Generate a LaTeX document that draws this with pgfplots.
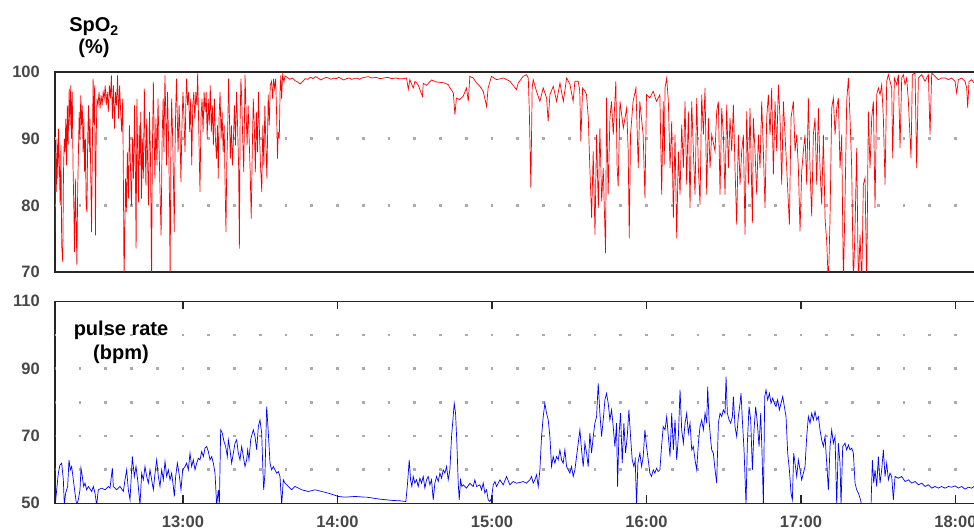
\documentclass[border=0pt]{standalone}
\usepackage{fontspec}
\setmainfont{Liberation Sans}
\usepackage{pgfplots}
\pgfplotsset{compat=1.18}

\definecolor{ticktext}{HTML}{474747}
\definecolor{framecol}{HTML}{262626}
\definecolor{griddot}{HTML}{ABABAB}

% time axis in minutes after 12:00
\pgfplotsset{
  panel/.style={
    scale only axis,
    width=925pt,
    xmin=10.3, xmax=369.52,
    axis line style={framecol, line width=1.5pt},
    tick label style={font=\fontsize{16.5}{18}\selectfont\bfseries, text=ticktext},
    yticklabel style={anchor=east, inner sep=0pt, xshift=-15pt},
    ytick style={draw=none},
    major tick length=8pt,
    extra y tick labels={},
    extra y tick style={grid=major, major tick length=0pt,
      major grid style={griddot, line width=2.8pt,
        dash pattern=on 2.8pt off 22.95pt, dash phase=2.17pt}},
  }
}

\begin{document}
\begin{tikzpicture}
\path[use as bounding box] (0,0) rectangle (974pt,530pt);

% ---------------- SpO2 ----------------
\begin{axis}[panel, at={(55pt,258pt)}, anchor=south west, height=200pt,
  ymin=70, ymax=100, ytick={70,80,90,100}, yticklabels={70,80,90,100},
  extra y ticks={80,90}, xtick=\empty]
\addplot[red, line width=0.7pt] table[x=t, y=v] {
t v
10.3 76
10.5 88
10.8 82
11.1 90
11.4 84
11.7 91.5
12.0 86
12.3 80
12.6 89
12.9 74
13.3 71.5
13.6 85
13.9 90
14.2 88
14.5 93
14.8 86
15.1 95
15.4 89
15.8 97.5
16.1 92
16.4 98
16.7 90
17.0 97
17.3 86
17.6 80
17.9 73
18.2 84
18.5 78
18.8 71
19.1 82
19.4 88
19.7 94
20.0 90
20.3 96.5
20.6 92
20.9 95
21.2 88
21.5 93
21.8 85
22.1 90
22.4 80
22.7 79
23.0 90
23.3 95
23.6 88
23.9 93
24.2 84
24.5 76
24.8 88
25.1 99
25.4 92
25.7 98
26.0 75.5
26.3 90
26.6 96
27.0 95
27.4 97
27.8 94.5
28.2 96.5
28.6 95
29.0 97
29.4 96
29.8 98
30.2 95
30.6 97
31.0 94
31.4 98
31.8 96
32.2 99.5
32.6 93
33.0 98
33.4 91.5
33.8 97
34.2 95
34.6 99.5
35.0 93
35.4 98
35.8 94
36.2 91
36.6 96
36.9 82
37.1 68
37.4 76
37.7 84
38.0 79
38.4 88
38.8 81
39.2 92
39.6 86
40.0 80
40.4 90
40.8 84
41.2 95
41.5 86
41.8 73.5
42.1 96
42.4 88
42.7 80.5
43.0 92
43.3 86
43.6 94
43.9 81
44.2 90
44.6 84
45.0 97.5
45.3 90
45.6 83
45.9 93
46.2 88
46.6 80
47.0 94
47.4 87
47.8 68
48.1 88
48.5 98.5
48.8 91
49.1 84
49.5 93
49.9 86
50.3 96
50.7 89
51.1 82
51.5 75.5
51.9 90
52.3 96
52.6 88
53.0 99.5
53.3 94
53.6 86
54.0 97
54.4 90
54.8 80
55.0 68
55.3 88
55.6 96
56.0 90
56.3 84
56.6 76
56.9 88
57.2 95
57.5 99
57.8 93
58.1 88
58.5 95
58.9 90
59.2 83.5
59.6 92
60.0 97
60.4 93
60.8 88
61.1 95
61.4 99
61.8 95
62.2 97
62.6 91
63.0 96
63.4 86
63.8 95
64.2 97
64.6 93
65.0 97
65.4 95
65.7 99.8
66.0 94
66.3 88
66.6 82
67.0 93
67.4 96
67.8 91
68.2 97
68.6 94
69.0 97
69.4 90
69.8 96
70.2 92
70.6 98
71.0 91
71.4 95
71.8 89
72.2 96
72.6 90
73.0 87
73.4 92
73.7 84
74.0 93
74.4 97
74.8 90
75.2 94
75.6 88
76.0 92
76.4 82
76.7 76
77.0 86
77.4 92
77.7 99
78.0 94
78.4 87
78.8 92
79.2 86
79.6 90
80.0 95
80.4 89
80.8 97
81.2 92
81.6 86
81.9 73.5
82.2 93
82.5 99
82.8 96
83.2 90
83.6 85
84.1 99.6
84.5 94
84.9 89
85.3 95
85.7 90
86.1 85
86.5 78
86.9 88
87.3 96
87.7 92
88.1 85
88.5 94
88.9 88
89.3 97
89.7 91
90.1 86
90.6 82
91.0 92
91.4 86
91.8 95
92.2 89
92.6 84
93.1 96.6
93.5 92
93.9 98
94.4 98.6
94.8 96
95.2 99
95.6 97.5
96.0 99
96.4 93
96.7 87
97.0 91
97.4 90
97.7 97
98.0 99.5
98.3 96
98.7 99.6
99.2 98.5
99.6 99.4
100.5 99.2
101.5 98.9
102.5 99.1
103.5 98.7
104.5 98.5
105.5 98.2
106.5 98.6
107.5 99.0
108.5 98.9
109.5 99.2
110.5 99.0
111.5 99.3
112.5 99.1
113.5 98.8
114.5 99.0
115.5 99.2
116.5 99.1
117.5 98.9
118.5 99.1
119.5 99.0
120.5 99.2
121.5 99.0
122.5 98.8
123.5 99.0
124.5 99.1
125.5 98.9
126.5 99.0
127.5 99.1
128.5 98.9
129.5 99.1
130.5 99.2
132.0 99.3
133.5 99.1
135.0 99.2
136.5 99.0
138.0 99.1
139.5 99.2
141.0 99.0
142.5 99.1
144.0 99.0
145.5 99.0
146.8 99.1
147.5 97.4
148.1 98.85
149.4 97.6
150.1 98.6
151.3 98.1
153.0 96.35
153.3 98.3
154.6 98.0
156.5 98.8
158.5 98.5
161.1 98.4
163.0 98.1
163.7 97.6
165.0 96.85
165.6 93.6
166.2 96.1
167.5 95.85
168.8 96.35
170.1 97.6
170.8 95.6
171.4 99.35
172.7 99.1
174.0 98.35
175.3 97.85
176.6 97.1
177.9 94.85
178.5 97.6
179.8 99.35
181.8 98.85
184.4 99.1
187.0 98.6
189.5 97.35
190.2 98.35
192.1 99.35
193.4 99.6
194.1 99.1
194.5 94.1
195.1 82.6
195.6 97.6
196.0 98.85
197.3 97.1
198.6 95.6
199.9 97.6
201.2 96.1
201.8 92.6
202.5 96.6
203.8 97.85
205.1 95.6
206.4 98.35
207.7 95.6
209.0 99.1
210.3 98.1
211.5 95.6
212.2 98.6
213.5 98.6
214.1 97.1
214.5 89.6
215.2 97.6
216.1 97.1
216.7 96.6
217.4 93.1
218.0 85.6
218.7 78.1
219.3 88.1
220.0 75.6
220.6 90.6
221.3 79.6
221.9 91.6
222.6 80.6
223.2 85.6
224.1 72.85
224.5 96.1
225.1 81.6
225.8 93.1
226.4 95.6
227.1 90.6
228.1 98.6
228.6 85.6
229.0 82.85
229.7 95.6
231.0 91.6
232.3 94.6
232.9 88.1
233.3 75.1
233.8 90.6
234.8 95.6
235.9 97.6
236.8 85.6
237.4 95.6
238.7 90.6
239.4 81.1
240.0 96.6
241.3 96.1
242.6 97.1
243.9 95.6
245.2 96.6
245.9 81.6
246.5 95.6
246.9 86.1
247.2 97.6
247.85 99.1
248.49 95.6
249.14 85.6
249.79 92.6
250.44 78.1
251.08 90.6
251.73 75.1
252.38 88.1
253.03 81.6
253.67 92.1
254.32 85.6
254.97 95.6
255.61 83.1
256.26 94.1
256.91 79.6
257.56 95.6
258.20 88.1
258.85 81.6
259.50 96.1
260.15 85.6
260.79 80.1
261.44 96.6
262.09 90.6
262.73 97.6
263.38 81.6
264.03 93.1
264.68 85.6
265.32 90.6
266.62 88.1
267.26 94.1
267.91 95.6
268.56 81.6
269.21 94.6
269.85 90.6
270.50 81.6
271.15 95.1
271.80 85.6
272.44 93.1
273.09 88.1
273.74 95.1
274.38 85.6
275.03 77.1
275.68 90.6
276.33 83.1
276.97 88.1
277.62 90.6
278.27 75.6
278.92 94.1
279.56 83.1
280.21 94.6
281.12 77.35
281.50 93.1
282.15 88.1
282.80 81.6
283.45 90.6
284.09 85.6
284.74 95.6
285.39 88.1
286.03 79.6
286.68 93.1
287.33 96.6
287.98 90.6
288.62 97.6
289.27 84.6
289.92 95.6
290.57 88.1
291.21 98.1
291.86 93.1
292.51 83.1
293.15 95.6
293.80 90.6
294.45 85.6
295.49 77.1
296.13 93.1
297.04 95.6
297.69 88.1
298.33 90.6
298.98 85.6
299.63 76.1
300.27 85.1
300.92 88.1
301.57 90.6
302.22 83.1
302.86 96.1
303.51 85.6
304.16 78.35
304.80 90.6
305.45 93.1
306.10 83.1
306.75 94.6
307.39 85.6
308.04 80.1
308.69 90.6
309.34 78.1
309.98 74.6
310.63 68
311.28 78.1
311.92 94.6
312.57 96.1
313.22 90.6
313.87 94.6
314.51 96.1
315.16 85.6
315.81 90.6
316.46 68
317.10 80.6
317.75 95.6
318.40 99.1
319.04 93.1
319.69 85.6
320.34 68
320.99 76.6
321.63 88.6
322.28 68
322.93 75.6
323.58 68
324.22 83.1
324.87 84.1
325.52 68
326.16 94.1
326.81 85.6
327.46 93.1
328.11 95.6
328.75 79.6
329.40 96.6
330.05 97.6
330.70 96.6
331.34 98.1
331.99 93.1
332.64 83.1
333.28 98.6
333.93 99.6
334.58 98.6
335.23 97.6
335.61 87.1
336.26 99.1
337.17 98.1
337.82 99.6
338.46 88.6
339.11 99.1
339.76 99.6
340.40 98.1
341.05 99.1
341.70 95.6
342.73 87.1
343.25 99.6
344.29 99.85
344.93 85.6
345.58 99.1
346.88 99.6
348.17 98.6
349.47 99.6
350.11 90.6
350.76 99.85
352.05 99.35
353.35 98.85
354.64 99.1
355.94 99.1
357.23 98.85
358.53 99.1
359.82 98.6
360.47 96.85
361.12 98.85
362.41 99.1
363.71 98.6
364.35 97.6
364.74 94.6
365.26 98.6
366.29 98.85
367.20 98.35
};
\end{axis}

% ---------------- pulse rate ----------------
\begin{axis}[panel, at={(55pt,26.7pt)}, anchor=south west, height=202pt,
  ymin=50, ymax=110, ytick={50,70,90,110}, yticklabels={50,70,90,110},
  extra y ticks={60,70,80,90,100},
  xtick={60,120,180,240,300,360},
  xticklabels={13:00,14:00,15:00,16:00,17:00,18:00},
  xtick style={framecol, line width=1.5pt},
  xticklabel style={anchor=north, inner sep=0pt, yshift=-12pt}]
\addplot[blue, line width=0.7pt] table[x=t, y=v] {
t v
10.3 99
10.4 49.5
10.95 54.01
11.59 58.95
12.24 61.43
12.89 61.92
13.54 56.98
13.92 49.5
14.44 53.02
15.22 55.0
15.74 62.91
16.25 59.94
16.77 60.93
17.42 56.98
18.07 53.02
18.71 49.5
19.36 51.04
20.01 54.01
20.4 60.44
20.91 57.97
21.43 55.0
21.95 55.99
22.6 54.01
23.25 55.0
24.54 53.51
25.19 55.0
25.83 53.02
26.48 49.5
27.13 54.01
28.42 54.5
29.72 54.01
31.01 55.0
31.66 54.5
32.57 60.44
32.95 55.0
34.25 54.01
35.54 55.0
36.84 53.51
37.48 56.98
38.13 59.94
38.78 54.01
39.43 51.04
40.33 63.9
41.11 57.97
41.76 60.93
42.4 56.98
43.31 49.5
43.96 58.95
44.6 56.98
45.25 60.93
45.9 57.97
46.55 55.99
47.19 59.94
47.84 56.98
48.49 54.01
49.14 58.95
49.78 62.91
50.43 57.97
51.08 55.0
51.72 59.94
52.37 56.98
53.02 62.42
53.67 57.97
54.31 59.94
54.96 56.98
55.61 58.95
56.25 55.0
56.64 52.03
57.16 57.97
57.81 61.92
58.46 58.95
59.23 54.01
59.88 59.94
60.79 60.93
61.43 61.92
62.08 59.94
62.73 64.89
63.37 60.93
64.02 62.91
64.67 59.94
65.32 61.92
65.96 63.41
66.61 62.91
67.26 65.38
67.91 63.9
68.55 66.37
69.2 66.87
69.85 65.38
70.49 62.91
71.14 63.9
71.79 61.92
72.44 58.95
73.08 49.5
73.73 54.01
74.12 49.5
74.64 71.81
75.28 70.82
75.93 68.35
76.58 66.87
77.23 63.9
77.61 68.85
78.26 65.88
78.91 61.92
79.56 64.89
80.2 67.86
80.85 68.85
81.5 64.89
82.14 62.91
82.79 66.87
83.44 63.9
84.09 60.93
84.73 62.91
85.12 65.88
85.64 62.91
86.29 68.85
86.93 70.82
87.32 71.81
87.97 69.83
88.62 65.88
89.26 72.8
89.91 74.78
90.56 70.82
90.95 61.92
91.34 54.01
91.85 58.95
92.5 78.74
93.15 70.82
93.8 61.92
94.44 59.94
95.09 60.93
95.74 59.94
96.38 58.95
97.03 59.45
97.68 57.97
98.33 49.5
98.97 56.98
99.62 55.99
100.92 55.0
102.21 54.01
103.5 55.0
104.8 54.5
106.09 54.01
108.68 53.51
111.27 54.01
113.86 53.51
116.45 53.02
118.39 52.53
120.33 52.03
122.92 51.83
126.81 52.03
130.69 51.83
131.29 51.83
133.88 51.53
136.47 51.23
139.06 51.03
141.65 50.84
144.23 50.74
146.56 50.54
147.21 55.98
147.86 62.9
148.38 56.97
148.89 54.99
149.41 57.96
150.06 55.98
150.71 56.97
151.35 54.99
152.0 57.46
152.65 55.98
153.3 57.96
153.94 54.5
154.59 56.97
155.24 57.96
155.88 55.49
156.53 56.97
157.18 51.03
157.83 55.98
158.47 57.96
159.12 56.47
159.77 58.95
160.42 57.46
161.06 59.94
161.71 58.95
162.36 60.93
163.0 56.97
163.65 59.94
164.3 69.83
164.82 74.77
165.33 79.72
165.85 76.75
166.37 67.85
166.89 55.98
167.28 51.03
167.79 56.97
168.31 54.99
168.83 55.49
170.12 54.5
171.42 55.98
172.71 54.99
173.36 56.97
174.01 54.99
175.3 55.49
175.95 54.0
176.6 55.98
177.24 53.01
177.89 54.0
178.54 51.03
179.19 50.54
179.83 51.53
180.48 55.49
181.13 56.47
181.77 54.99
183.07 56.97
184.36 55.49
185.66 57.96
186.95 55.49
188.25 56.47
189.54 55.98
190.84 56.18
192.13 56.47
193.43 55.98
194.72 56.97
195.37 57.96
196.01 55.98
196.66 56.97
197.31 58.45
197.96 54.99
198.6 59.94
199.25 69.83
199.9 75.76
200.54 79.72
201.19 76.75
201.84 74.77
202.49 69.83
203.13 60.93
203.78 63.89
204.43 61.91
205.08 63.89
205.72 62.9
206.37 65.87
207.02 62.9
207.66 61.91
208.31 65.87
208.96 60.93
209.61 59.94
210.25 58.95
210.9 60.93
211.55 57.96
212.2 59.94
212.84 63.89
213.49 67.85
214.14 71.81
214.78 65.87
215.43 60.93
216.08 67.85
216.73 64.88
217.37 60.93
218.02 70.82
218.67 64.88
219.32 69.83
219.96 73.78
220.61 75.76
221.26 85.65
221.9 76.75
222.55 69.83
223.2 74.77
223.85 80.71
224.49 82.69
225.14 79.72
225.79 74.77
226.43 77.74
227.08 72.79
227.73 66.86
228.38 73.78
228.77 54.99
229.28 69.83
229.93 76.75
230.58 61.91
231.22 73.78
231.87 64.88
232.52 69.83
233.17 77.74
233.81 69.83
234.46 62.9
235.11 60.93
235.63 62.9
236.14 49.5
236.66 61.91
237.44 64.88
238.09 60.93
238.73 63.89
239.38 71.81
240.03 66.86
240.67 62.9
241.32 58.95
241.97 57.96
242.62 59.94
243.26 58.95
243.91 60.43
244.56 59.44
245.21 59.94
245.85 66.86
246.5 72.79
247.2 71.81
247.85 75.76
248.49 69.83
249.14 63.89
249.79 76.75
250.44 65.87
251.08 74.77
251.73 62.9
252.38 69.83
253.03 83.68
253.67 71.81
254.32 67.85
254.97 73.78
255.61 76.75
256.26 70.82
256.91 73.78
257.56 65.87
258.2 66.86
258.85 62.9
259.5 59.94
260.15 67.85
260.79 72.79
261.44 74.77
262.09 71.81
262.73 76.75
263.38 73.78
263.77 84.66
264.29 74.77
264.81 69.83
265.32 65.87
265.97 64.88
266.62 59.94
267.26 55.98
267.91 73.78
268.56 76.75
269.21 75.76
269.85 77.74
270.5 76.75
270.89 87.63
271.41 76.75
272.05 74.77
272.7 73.78
273.35 75.76
273.74 81.7
274.38 72.79
275.03 69.83
275.68 75.76
276.33 79.72
276.71 82.69
277.23 74.77
277.88 65.87
278.66 49.5
279.17 67.85
279.82 78.73
280.47 74.77
281.12 59.94
281.76 71.81
282.41 78.73
283.06 73.78
283.71 66.86
284.35 76.75
284.87 64.88
285.39 49.5
285.91 81.7
286.42 83.68
287.07 80.71
287.72 82.69
288.37 79.72
289.01 81.2
289.66 79.72
290.31 78.73
290.95 80.71
291.6 77.74
292.25 79.72
292.9 81.7
293.54 78.73
294.19 75.76
294.84 64.88
295.49 59.94
296.13 53.01
296.65 51.03
297.17 64.88
297.69 61.91
298.33 57.96
298.98 62.9
299.63 59.94
300.27 56.97
300.92 58.95
301.57 60.93
302.22 69.83
302.86 75.76
303.51 73.78
304.16 76.75
304.8 74.77
305.45 77.25
306.1 74.77
306.75 75.76
307.39 71.81
308.04 68.84
308.69 66.86
309.34 69.83
309.98 61.91
310.63 54.0
311.28 66.86
311.92 71.81
312.57 67.85
313.22 69.83
313.87 49.5
314.51 67.85
315.16 61.91
315.55 49.5
316.2 66.86
317.1 67.85
317.75 65.87
318.4 67.35
319.04 65.87
319.69 66.37
320.34 64.88
320.99 55.98
321.63 54.0
322.28 53.01
322.93 51.53
323.58 49.5
324.87 49.5
326.16 49.5
327.2 49.5
327.72 62.9
328.24 55.98
328.75 59.94
329.4 54.99
330.05 63.89
330.7 55.98
331.34 59.94
331.99 65.87
332.64 57.96
333.28 61.91
333.93 56.97
334.58 58.95
335.23 57.96
335.87 51.03
336.52 57.96
337.82 57.46
339.11 57.96
340.4 56.47
341.7 56.97
342.99 55.98
344.29 56.47
345.58 55.49
346.88 55.98
348.17 54.99
349.47 55.49
350.76 54.5
352.05 54.99
353.35 54.5
354.64 54.99
355.94 54.5
357.23 54.99
358.53 54.79
359.82 55.19
361.12 54.5
362.41 54.99
363.71 54.2
365.0 54.79
366.29 54.5
367.2 54.99
};
\end{axis}

\node[align=center, font=\fontsize{20}{22}\selectfont\bfseries] at (94pt,492pt) {SpO\textsubscript{2}\\(\%)};
\node[align=center, font=\fontsize{20}{24}\selectfont\bfseries] at (121pt,188pt) {pulse rate\\(bpm)};
\end{tikzpicture}
\end{document}
